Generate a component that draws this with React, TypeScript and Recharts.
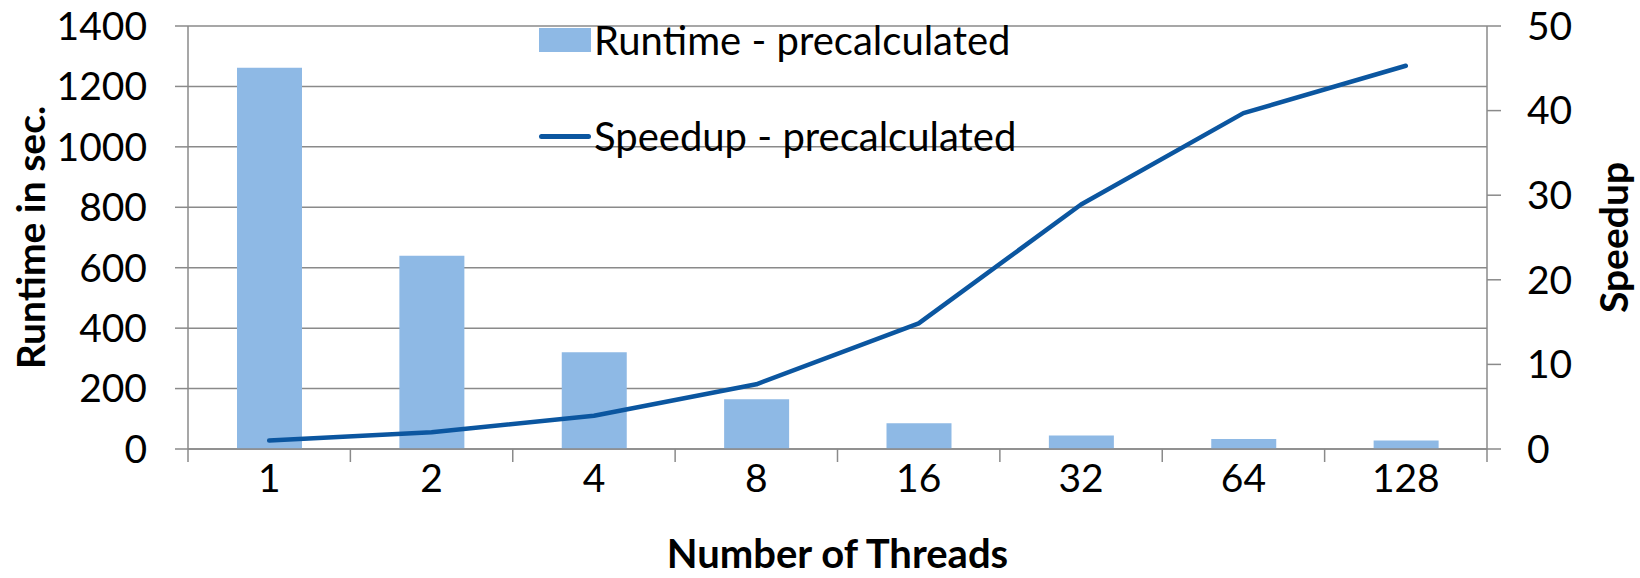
import { Bar, CartesianGrid, ComposedChart, Legend, Line, XAxis, YAxis } from "recharts";

const threads = ["1", "2", "4", "8", "16", "32", "64", "128"];
const runtime = [1262, 640, 320, 165, 85, 45, 33, 28];
const speedup = [1.0, 1.97, 3.94, 7.65, 14.85, 28.9, 39.7, 45.3];
const runtimeTicks = [0, 200, 400, 600, 800, 1000, 1200, 1400];
const speedupTicks = [0, 10, 20, 30, 40, 50];

const W = 1640;
const H = 578;
const LEFT_W = 188;
const RIGHT_W = 153;
const TOP = 26;
const X_H = 129;
const PLOT_BOTTOM = H - X_H;
const BAND = (W - LEFT_W - RIGHT_W) / threads.length;

const FONT = "Lato, 'Open Sans', sans-serif";
const GRID = "#8a8a8a";
const BAR_COLOR = "#8eb9e5";
const LINE_COLOR = "#0b56a0";

const data = threads.map((t, i) => ({ threads: t, runtime: runtime[i], speedup: speedup[i] }));

function ThreadTick(props: any) {
  const { x, payload, index } = props;
  const left = x - BAND / 2;
  const right = x + BAND / 2;
  return (
    <g>
      <line x1={left} x2={left} y1={PLOT_BOTTOM} y2={PLOT_BOTTOM + 13} stroke={GRID} strokeWidth={1.5} />
      {index === threads.length - 1 && (
        <line x1={right} x2={right} y1={PLOT_BOTTOM} y2={PLOT_BOTTOM + 13} stroke={GRID} strokeWidth={1.5} />
      )}
      <text x={x} y={PLOT_BOTTOM + 43} textAnchor="middle" fontFamily={FONT} fontSize={39} fill="#000">
        {payload.value}
      </text>
    </g>
  );
}

function LegendBox() {
  return (
    <div style={{ fontFamily: FONT, fontSize: 40, color: "#000", lineHeight: "46px" }}>
      <div style={{ display: "flex", alignItems: "center", height: 46 }}>
        <span style={{ display: "inline-block", width: 52, height: 24, background: BAR_COLOR, marginRight: 3 }} />
        Runtime - precalculated
      </div>
      <div style={{ display: "flex", alignItems: "center", height: 46, marginTop: 50 }}>
        <span style={{ display: "inline-block", width: 52, height: 5, borderRadius: 3, background: LINE_COLOR, marginRight: 3 }} />
        Speedup - precalculated
      </div>
    </div>
  );
}

export default function App() {
  return (
    <div style={{ position: "absolute", left: 0, top: 0, width: W, height: H, background: "#fff" }}>
      <ComposedChart width={W} height={H} data={data} margin={{ top: TOP, right: 0, bottom: 0, left: 0 }}>
        <CartesianGrid yAxisId="left" vertical={false} stroke={GRID} strokeWidth={1.5} />
        <XAxis
          dataKey="threads"
          height={X_H}
          interval={0}
          tickLine={false}
          axisLine={{ stroke: GRID, strokeWidth: 1.5 }}
          tick={<ThreadTick />}
          label={{
            value: "Number of Threads",
            position: "insideBottom",
            offset: 10,
            style: { fontFamily: FONT, fontSize: 40, fontWeight: 700, fill: "#000" },
          }}
        />
        <YAxis
          yAxisId="left"
          width={LEFT_W}
          domain={[0, 1400]}
          ticks={runtimeTicks}
          tickSize={13}
          tickMargin={28}
          tickLine={{ stroke: GRID, strokeWidth: 1.5 }}
          axisLine={{ stroke: GRID, strokeWidth: 1.5 }}
          tick={{ fontFamily: FONT, fontSize: 39, fill: "#000" }}
          label={{
            value: "Runtime in sec.",
            angle: -90,
            position: "insideLeft",
            offset: 31,
            style: { fontFamily: FONT, fontSize: 39, fontWeight: 700, fill: "#000", textAnchor: "middle" },
          }}
        />
        <YAxis
          yAxisId="right"
          orientation="right"
          width={RIGHT_W}
          domain={[0, 50]}
          ticks={speedupTicks}
          tickSize={14}
          tickMargin={26}
          tickLine={{ stroke: GRID, strokeWidth: 1.5 }}
          axisLine={{ stroke: GRID, strokeWidth: 1.5 }}
          tick={{ fontFamily: FONT, fontSize: 39, fill: "#000", textAnchor: "start" }}
          label={{
            value: "Speedup",
            angle: -90,
            position: "insideRight",
            offset: 26,
            style: { fontFamily: FONT, fontSize: 39, fontWeight: 700, fill: "#000", textAnchor: "middle" },
          }}
        />
        <Legend
          layout="vertical"
          align="center"
          verticalAlign="middle"
          content={<LegendBox />}
          wrapperStyle={{ left: 539, top: 17, width: "auto" }}
        />
        <Bar yAxisId="left" dataKey="runtime" name="Runtime - precalculated" fill={BAR_COLOR} barSize={65} isAnimationActive={false} />
        <Line
          yAxisId="right"
          type="linear"
          dataKey="speedup"
          name="Speedup - precalculated"
          stroke={LINE_COLOR}
          strokeWidth={4.5}
          strokeLinecap="round"
          strokeLinejoin="round"
          dot={false}
          activeDot={false}
          isAnimationActive={false}
        />
      </ComposedChart>
    </div>
  );
}
